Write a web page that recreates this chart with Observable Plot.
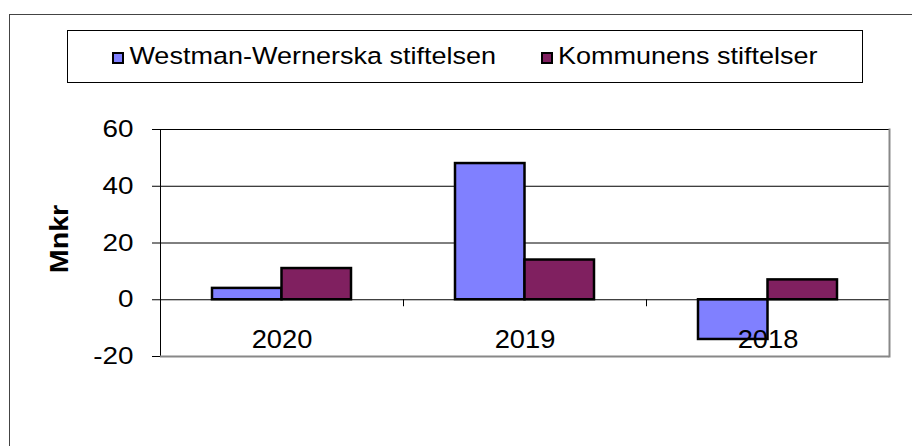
<!DOCTYPE html>
<html><head><meta charset="utf-8">
<script src="https://cdn.jsdelivr.net/npm/d3@7"></script>
<script src="https://cdn.jsdelivr.net/npm/@observablehq/plot@0.6"></script>
<style>
html,body{margin:0;padding:0;background:#fff;overflow:hidden;width:912px;height:446px;}
#wrap{position:relative;width:912px;height:446px;overflow:hidden;font-family:'Liberation Sans',Arial,sans-serif;}
#outer{position:absolute;left:9px;top:14px;width:1200px;height:1200px;border:1px solid #444;box-sizing:border-box;}
#legend{position:absolute;left:67px;top:30px;width:796px;height:53px;border:1px solid #000;box-sizing:border-box;display:flex;align-items:center;justify-content:center;font-size:27px;color:#000;}
.item{display:flex;align-items:center;}
.sw{width:8px;height:8px;border:2px solid #000;margin-right:5px;margin-top:3px;}
.lt{display:inline-block;transform:scaleY(0.9);line-height:1;}
.item + .item{margin-left:45px;}
#chart{position:absolute;left:0;top:0;}
</style></head>
<body>
<div id="wrap"><div id="outer"></div><div id="legend"></div><div id="chart"></div></div>
<script>
const years = ["2020", "2019", "2018"];
const westman = [4, 48, -14];
const kommun = [11, 14, 7];
const series = ["Westman-Wernerska stiftelsen", "Kommunens stiftelser"];
const colors = ["#8080FF", "#802060"];
const yTicks = [-20, 0, 20, 40, 60];
const gridLines = [20, 40];
const yLabel = "Mnkr";

// legend
const legend = document.getElementById("legend");
series.forEach((s, i) => {
  const item = document.createElement("div");
  item.className = "item";
  const sw = document.createElement("span");
  sw.className = "sw";
  sw.style.background = colors[i];
  const t = document.createElement("span");
  t.className = "lt";
  t.textContent = s;
  item.appendChild(sw); item.appendChild(t);
  legend.appendChild(item);
});

const W = 912, H = 446, ML = 160, MR = 23, MT = 129, MB = 90;
const band = (W - ML - MR) / years.length;
const barW = band * 0.286;
const gap = (band - 2 * barW) / 2;
const rows = years.map((yr, i) => ({year: yr, w: westman[i], k: kommun[i]}));

const chart = Plot.plot({
  width: W, height: H,
  marginLeft: ML, marginRight: MR, marginTop: MT, marginBottom: MB,
  style: {background: "transparent", color: "#000", fontFamily: "'Liberation Sans', Arial, sans-serif", fontSize: "24px", overflow: "visible"},
  x: {type: "band", domain: years, padding: 0},
  y: {domain: [-20, 60]},
  marks: [
    Plot.ruleY(gridLines, {stroke: "#000"}),
    Plot.frame({stroke: "#000"}),
    Plot.barY(rows, {x: "year", y: "w", fill: colors[0], stroke: "#000", strokeWidth: 2.5, insetLeft: gap, insetRight: band - gap - barW}),
    Plot.barY(rows, {x: "year", y: "k", fill: colors[1], stroke: "#000", strokeWidth: 2.5, insetLeft: gap + barW, insetRight: gap}),
    Plot.ruleY([0], {stroke: "#000"}),
    Plot.barY(years.slice(1), {x: d => d, y1: 0, y2: 0, insetLeft: 0, insetRight: band - 1, insetBottom: -7, fill: "#000"}),
    Plot.ruleY([-20], {stroke: "#888", strokeWidth: 2}),
    Plot.frame({anchor: "right", stroke: "#888", strokeWidth: 2}),
    Plot.axisY(yTicks, {tickSize: 8, tickPadding: 19, fontSize: 24, label: null, tickFormat: d => String(d)}),
    Plot.axisX({tickSize: 0, tickPadding: -27, fontSize: 26, label: null}),
    Plot.text([yLabel], {frameAnchor: "left", text: d => d, rotate: -90, dx: -101, dy: -4, textAnchor: "middle", lineAnchor: "middle", fontWeight: "bold", fontSize: 26})
  ]
});
document.getElementById("chart").appendChild(chart);

// widen glyphs horizontally like the reference rendering
function stretch(sel, k) {
  chart.querySelectorAll(sel).forEach(el => {
    const w = el.getComputedTextLength();
    el.setAttribute("textLength", (w * k).toFixed(2));
    el.setAttribute("lengthAdjust", "spacingAndGlyphs");
  });
}
stretch('g[aria-label="y-axis tick label"] text', 1.16);
stretch('g[aria-label="x-axis tick label"] text', 1.05);
stretch('g[aria-label="text"] text', 1.1);
</script>
</body></html>
